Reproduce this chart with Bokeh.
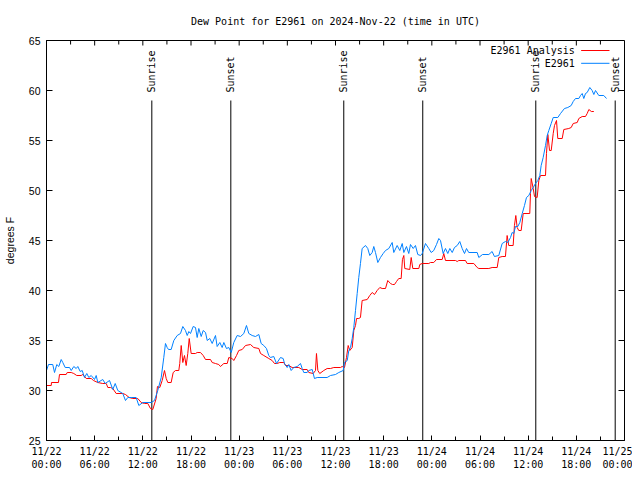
import math
from bokeh.plotting import figure
from bokeh.models import FixedTicker, Range1d
from bokeh.core.properties import value
from bokeh.embed import file_html
from bokeh.resources import INLINE

# time = hours since 2024-11-22 00:00 UTC
obs_hours = [0.0, 0.25, 0.78, 1.0, 1.28, 1.53, 1.83, 2.03, 2.33, 2.87, 3.08, 3.4, 3.7, 3.9, 4.2, 4.45,
             4.73, 5.02, 5.27, 5.57, 5.98, 6.19, 6.39, 7.01, 7.31, 7.85, 8.26, 8.56, 8.88, 9.5, 9.84,
             10.13, 10.63, 11.17, 11.5, 12.0, 13.04, 13.45, 13.86, 14.29, 14.61, 14.82, 15.03, 15.2,
             15.53, 15.86, 16.28, 16.69, 16.98, 17.31, 17.53, 17.73, 17.94, 18.27, 18.56, 18.77, 18.97,
             19.27, 19.52, 19.81, 20.02, 20.34, 20.64, 21.05, 21.26, 21.59, 21.88, 22.09, 22.42, 22.71,
             23.01, 23.33, 23.75, 24.17, 24.58, 24.91, 25.2, 25.62, 26.03, 26.45, 26.74, 27.07, 27.4,
             27.69, 27.9, 28.31, 28.65, 29.15, 29.48, 29.65, 29.98, 30.18, 30.48, 30.8, 31.23, 31.64,
             31.85, 32.05, 32.47, 32.67, 33.1, 33.38, 33.72, 34.96, 35.38, 36.0, 36.41, 36.96, 37.12,
             37.46, 37.66, 37.87, 38.08, 38.28, 38.49, 38.7, 38.9, 39.11, 39.32, 39.74, 40.02, 40.27,
             40.57, 40.77, 40.98, 41.27, 41.6, 41.94, 42.23, 42.64, 43.06, 43.26, 43.68, 44.01, 44.31,
             44.51, 44.84, 45.13, 45.34, 45.68, 45.96, 46.25, 46.59, 46.8, 47.21, 47.62, 47.92, 48.24,
             48.58, 48.87, 49.08, 49.41, 49.7, 49.99, 50.24, 50.54, 50.82, 51.16, 51.48, 51.78, 52.07,
             52.32, 52.6, 53.65, 53.85, 54.31, 55.1, 55.51, 55.8, 56.34, 56.76, 57.17, 57.46, 57.8,
             58.0, 58.21, 58.42, 58.71, 58.96, 59.26, 59.54, 59.79, 60.08, 60.38, 60.63, 60.91, 61.2,
             61.45, 61.62, 61.87, 62.16, 62.37, 62.57, 62.87, 63.12, 63.69, 64.03, 64.52, 64.94, 65.36,
             65.61, 65.9, 66.31, 66.52, 66.73, 66.93, 67.14, 67.35, 67.68, 67.97, 68.18, 68.39, 68.8,
             69.42, 69.76]
obs_dewpt = [32.0, 32.6, 32.6, 31.8, 32.6, 32.4, 33.1, 32.8, 32.3, 32.3, 32.0, 32.4, 32.2, 32.4, 31.9, 32.0,
             31.3, 31.7, 31.3, 31.5, 31.1, 31.5, 30.8, 31.1, 30.7, 31.0, 30.1, 30.7, 30.0, 29.7, 29.0,
             29.3, 29.3, 29.3, 28.5, 28.8, 28.8, 29.0, 30.0, 31.3, 33.3, 34.7, 34.3, 34.1,
             34.1, 35.0, 35.5, 35.7, 36.4, 36.0, 35.5, 35.9, 35.7, 36.4, 36.3, 35.3, 36.2,
             35.4, 36.0, 35.8, 35.0, 35.2, 34.7, 35.5, 34.4, 34.8, 34.3, 34.8, 34.2, 34.3,
             33.8, 34.8, 35.5, 35.4, 35.7, 36.5, 35.7, 35.5, 35.4, 35.6, 34.7, 34.5, 34.2,
             33.5, 33.3, 33.4, 32.7, 33.3, 33.2, 32.7, 32.3, 32.6, 32.0, 32.3, 32.4, 32.7,
             32.2, 31.8, 31.8, 32.0, 32.1, 31.2, 31.3, 31.3, 31.5, 31.6, 31.8, 32.0, 32.8,
             33.0, 34.0, 34.3, 35.2, 36.3, 38.0, 39.7, 41.3, 42.7, 44.2, 44.5, 44.2, 43.5,
             43.8, 44.4, 43.8, 42.8, 43.3, 43.7, 44.0, 44.2, 44.8, 43.8, 44.5, 44.0, 44.7,
             43.8, 44.4, 43.7, 44.6, 44.2, 44.5, 43.6, 43.5, 43.7, 44.7, 44.2, 43.8, 44.0,
             44.6, 45.2, 45.0, 43.7, 44.2, 43.7, 44.2, 43.8, 44.3, 44.5, 44.9, 44.2, 43.7,
             44.2, 43.8, 43.8, 43.3, 43.6, 43.6, 43.9, 43.4, 43.5, 44.7, 44.9, 44.8, 45.3,
             45.8, 45.7, 46.4, 46.4, 46.8, 47.7, 48.5, 49.3, 49.5, 50.0, 50.3, 50.7, 51.0,
             51.5, 52.5, 53.3, 54.5, 55.5, 56.0, 56.7, 57.3, 57.3, 57.7, 58.2, 58.3, 58.5,
             58.9, 59.2, 59.2, 59.5, 59.7, 59.2, 59.7, 59.8, 60.3, 60.0, 59.6, 60.0, 59.5,
             59.5, 59.2]

ana_hours = [0.0, 0.59, 0.62, 1.49, 1.62, 2.45, 2.58, 3.08, 3.4, 3.77, 4.32, 4.52, 4.95, 5.57, 5.85, 6.39,
             7.01, 7.44, 7.64, 7.97, 8.26, 8.68, 9.5, 9.84, 10.3, 10.75, 11.37, 11.8, 12.21, 12.62,
             12.95, 13.24, 13.66, 13.82, 14.11, 14.41, 14.7, 14.91, 15.11, 15.53, 15.78, 16.07, 16.48,
             16.6, 16.78, 16.98, 17.19, 17.4, 17.6, 17.78, 18.02, 18.56, 18.77, 19.18, 19.52, 19.81,
             20.43, 20.64, 21.05, 21.46, 21.67, 22.09, 22.51, 22.71, 23.13, 23.33, 23.67, 23.95, 24.38,
             24.79, 25.41, 25.82, 26.45, 26.66, 27.07, 27.69, 28.11, 28.4, 28.73, 29.06, 29.56, 29.77,
             30.18, 30.6, 31.43, 31.85, 32.47, 32.67, 33.22, 33.51, 33.63, 33.8, 34.04, 34.54, 34.96,
             35.38, 35.79, 36.62, 36.83, 37.12, 37.37, 37.58, 37.78, 38.08, 38.28, 38.49, 38.62, 38.9,
             39.11, 39.32, 39.95, 40.27, 40.57, 40.86, 41.19, 41.52, 41.81, 42.23, 42.51, 42.85, 43.1,
             43.35, 43.6, 43.88, 44.18, 44.34, 44.51, 44.63, 45.25, 45.43, 45.63, 46.38, 46.5, 46.8,
             47.62, 47.83, 48.24, 48.58, 49.29, 49.49, 49.7, 50.95, 51.16, 51.36, 52.19, 52.4, 53.23,
             53.65, 53.85, 55.1, 55.51, 56.14, 56.34, 56.76, 57.17, 57.38, 57.58, 58.13, 58.29, 58.46,
             58.63, 58.83, 59.13, 59.38, 60.2, 60.29, 60.38, 60.63, 60.79, 61.12, 61.33, 61.54, 62.16,
             62.28, 62.45, 62.66, 62.87, 63.12, 63.28, 63.53, 63.69, 64.24, 64.44, 65.06, 65.36, 65.61,
             66.11, 66.31, 66.73, 67.14, 67.35, 67.56, 67.87, 68.18]
ana_dewpt = [30.5, 30.5, 30.8, 30.8, 31.6, 31.6, 31.8, 31.8, 31.7, 31.5, 31.5, 31.6, 31.2, 31.2, 31.0, 30.8,
             30.7, 30.7, 30.3, 30.3, 30.2, 29.7, 29.7, 29.6, 29.3, 29.2, 29.2, 28.8, 28.7, 28.7,
             28.2, 28.1, 29.2, 30.4, 30.3, 31.0, 32.0, 31.2, 30.8, 30.8, 31.8, 32.0, 32.0,
             32.7, 34.5, 32.8, 33.5, 32.5, 33.7, 35.2, 33.7, 33.7, 33.8, 33.8, 33.5, 33.1,
             33.1, 32.8, 32.7, 32.6, 32.4, 32.7, 32.7, 33.3, 33.2, 33.0, 33.5, 34.0, 34.1,
             34.5, 34.6, 34.3, 34.2, 33.7, 33.5, 33.2, 33.0, 32.7, 32.7, 32.8, 32.8, 32.5,
             32.5, 32.3, 32.3, 32.1, 32.1, 31.8, 31.7, 32.0, 33.7, 32.0, 31.7, 32.0, 32.2,
             32.2, 32.3, 32.3, 32.4, 32.3, 33.3, 34.5, 34.0, 34.3, 36.0, 36.5, 37.2, 37.2,
             37.3, 39.0, 39.1, 39.5, 39.8, 39.6, 40.0, 40.3, 40.2, 40.2, 41.0, 40.7, 40.6,
             40.6, 40.9, 41.2, 41.2, 43.1, 43.5, 42.2, 42.1, 43.3, 42.2, 42.2, 42.6, 42.7,
             42.7, 42.8, 42.8, 43.1, 43.1, 43.7, 43.0, 43.0, 42.9, 43.0, 43.0, 42.7, 42.7,
             42.3, 42.2, 42.2, 42.3, 42.3, 43.3, 43.4, 43.4, 45.5, 44.5, 44.5, 46.5, 47.5,
             46.3, 46.0, 46.0, 47.7, 47.7, 49.7, 51.2, 50.2, 49.4, 49.3, 51.0, 51.5, 51.5,
             53.7, 55.6, 54.0, 54.0, 55.7, 56.5, 57.0, 55.2, 55.2, 56.1, 56.2, 56.3, 56.7,
             56.8, 57.2, 57.4, 57.4, 57.7, 58.1, 57.9, 57.9]

sun_hours = [13.12, 22.96, 37.03, 46.87, 60.95, 70.84]
sun_labels = ["Sunrise", "Sunset", "Sunrise", "Sunset", "Sunrise", "Sunset"]

x_tick_hours = [0, 6, 12, 18, 24, 30, 36, 42, 48, 54, 60, 66, 72]
x_tick_labels = ["11/22\n00:00", "11/22\n06:00", "11/22\n12:00", "11/22\n18:00",
                 "11/23\n00:00", "11/23\n06:00", "11/23\n12:00", "11/23\n18:00",
                 "11/24\n00:00", "11/24\n06:00", "11/24\n12:00", "11/24\n18:00",
                 "11/25\n00:00"]
x_minor_hours = [3, 9, 15, 21, 27, 33, 39, 45, 51, 57, 63, 69]
y_ticks = [25, 30, 35, 40, 45, 50, 55, 60, 65]

title_text = "Dew Point for E2961 on 2024-Nov-22 (time in UTC)"
series_names = ["E2961 Analysis", "E2961"]
series_colors = ["#ff0000", "#0080ff"]

X0, X1 = 0, 72
Y0, Y1 = 25, 65

MONO = "DejaVu Sans Mono"
SANS = "Liberation Sans"

FRAME_W, FRAME_H = 578, 400
B_LEFT, B_RIGHT, B_TOP, B_BOTTOM = 46, 8, 40, 32

p = figure(width=B_LEFT + FRAME_W + B_RIGHT, height=B_TOP + FRAME_H + B_BOTTOM,
           output_backend="svg", toolbar_location=None,
           x_range=Range1d(X0, X1), y_range=Range1d(Y0, Y1),
           min_border_left=B_LEFT, min_border_right=B_RIGHT,
           min_border_top=B_TOP, min_border_bottom=B_BOTTOM,
           background_fill_color="white", border_fill_color="white")
p.outline_line_color = "black"
p.outline_line_width = 1
p.grid.visible = False

p.title.text = title_text
p.title.align = "center"
p.title.text_font = MONO
p.title.text_font_size = "10px"
p.title.text_font_style = "normal"
p.title.text_color = "black"
p.title.standoff = 27

xt = FixedTicker(ticks=x_tick_hours, minor_ticks=x_minor_hours)
yt = FixedTicker(ticks=y_ticks, minor_ticks=[])

xa = p.xaxis[0]
xa.ticker = xt
xa.major_label_overrides = {h: lab for h, lab in zip(x_tick_hours, x_tick_labels)}
xa.major_label_text_font = MONO
xa.major_label_text_font_size = "10px"
xa.major_label_text_line_height = 1.2
xa.major_label_text_color = "black"
xa.major_label_standoff = 5
xa.major_tick_in = 5
xa.major_tick_out = 0
xa.minor_tick_in = 4
xa.minor_tick_out = 0
xa.axis_line_color = "black"

ya = p.yaxis[0]
ya.ticker = yt
ya.major_label_text_font = SANS
ya.major_label_text_font_size = "10.5px"
ya.major_label_text_color = "black"
ya.major_label_standoff = 6
ya.major_tick_in = 6
ya.major_tick_out = 0
ya.minor_tick_in = 0
ya.minor_tick_out = 0
ya.axis_label = "degrees F"
ya.axis_label_text_font = SANS
ya.axis_label_text_font_size = "10.5px"
ya.axis_label_text_font_style = "normal"
ya.axis_label_text_color = "black"
ya.axis_label_standoff = 10

# mirrored tick marks on the top and right borders (gnuplot style)
px_per_h = FRAME_W / (X1 - X0)
px_per_deg = FRAME_H / (Y1 - Y0)
top_major = 5 / px_per_deg
top_minor = 4 / px_per_deg
right_major = 6 / px_per_h
p.segment(x0=x_tick_hours, y0=[Y1 - top_major] * len(x_tick_hours),
          x1=x_tick_hours, y1=[Y1] * len(x_tick_hours), line_color="black", line_width=1)
p.segment(x0=x_minor_hours, y0=[Y1 - top_minor] * len(x_minor_hours),
          x1=x_minor_hours, y1=[Y1] * len(x_minor_hours), line_color="black", line_width=1)
p.segment(x0=[X1 - right_major] * len(y_ticks), y0=y_ticks,
          x1=[X1] * len(y_ticks), y1=y_ticks, line_color="black", line_width=1)

# sunrise / sunset markers
sun_line_top = Y0 + 0.85 * (Y1 - Y0)
sun_text_y = Y0 + 0.87 * (Y1 - Y0)
p.segment(x0=sun_hours, y0=[Y0] * len(sun_hours), x1=sun_hours, y1=[sun_line_top] * len(sun_hours),
          line_color="black", line_width=1)
p.text(x=sun_hours, y=[sun_text_y] * len(sun_hours), text=sun_labels, angle=math.pi / 2,
       text_align="left", text_baseline="middle", text_font=value(MONO),
       text_font_size="10px", text_color="black")

# data lines
p.line(ana_hours, ana_dewpt, line_color=series_colors[0], line_width=1)
p.line(obs_hours, obs_dewpt, line_color=series_colors[1], line_width=1)

# gnuplot-style key (text then sample line), top right
key_text_x = X0 + 0.914 * (X1 - X0)
key_line_x0 = X0 + 0.925 * (X1 - X0)
key_line_x1 = X0 + 0.974 * (X1 - X0)
key_rows = [Y0 + 0.975 * (Y1 - Y0), Y0 + 0.943 * (Y1 - Y0)]
p.text(x=[key_text_x] * 2, y=key_rows, text=series_names, text_align="right",
       text_baseline="middle", text_font=value(MONO), text_font_size="10px", text_color="black")
for yy, col in zip(key_rows, series_colors):
    p.segment(x0=[key_line_x0], y0=[yy], x1=[key_line_x1], y1=[yy], line_color=col, line_width=1)

open("out.html", "w").write(file_html(p, INLINE))
